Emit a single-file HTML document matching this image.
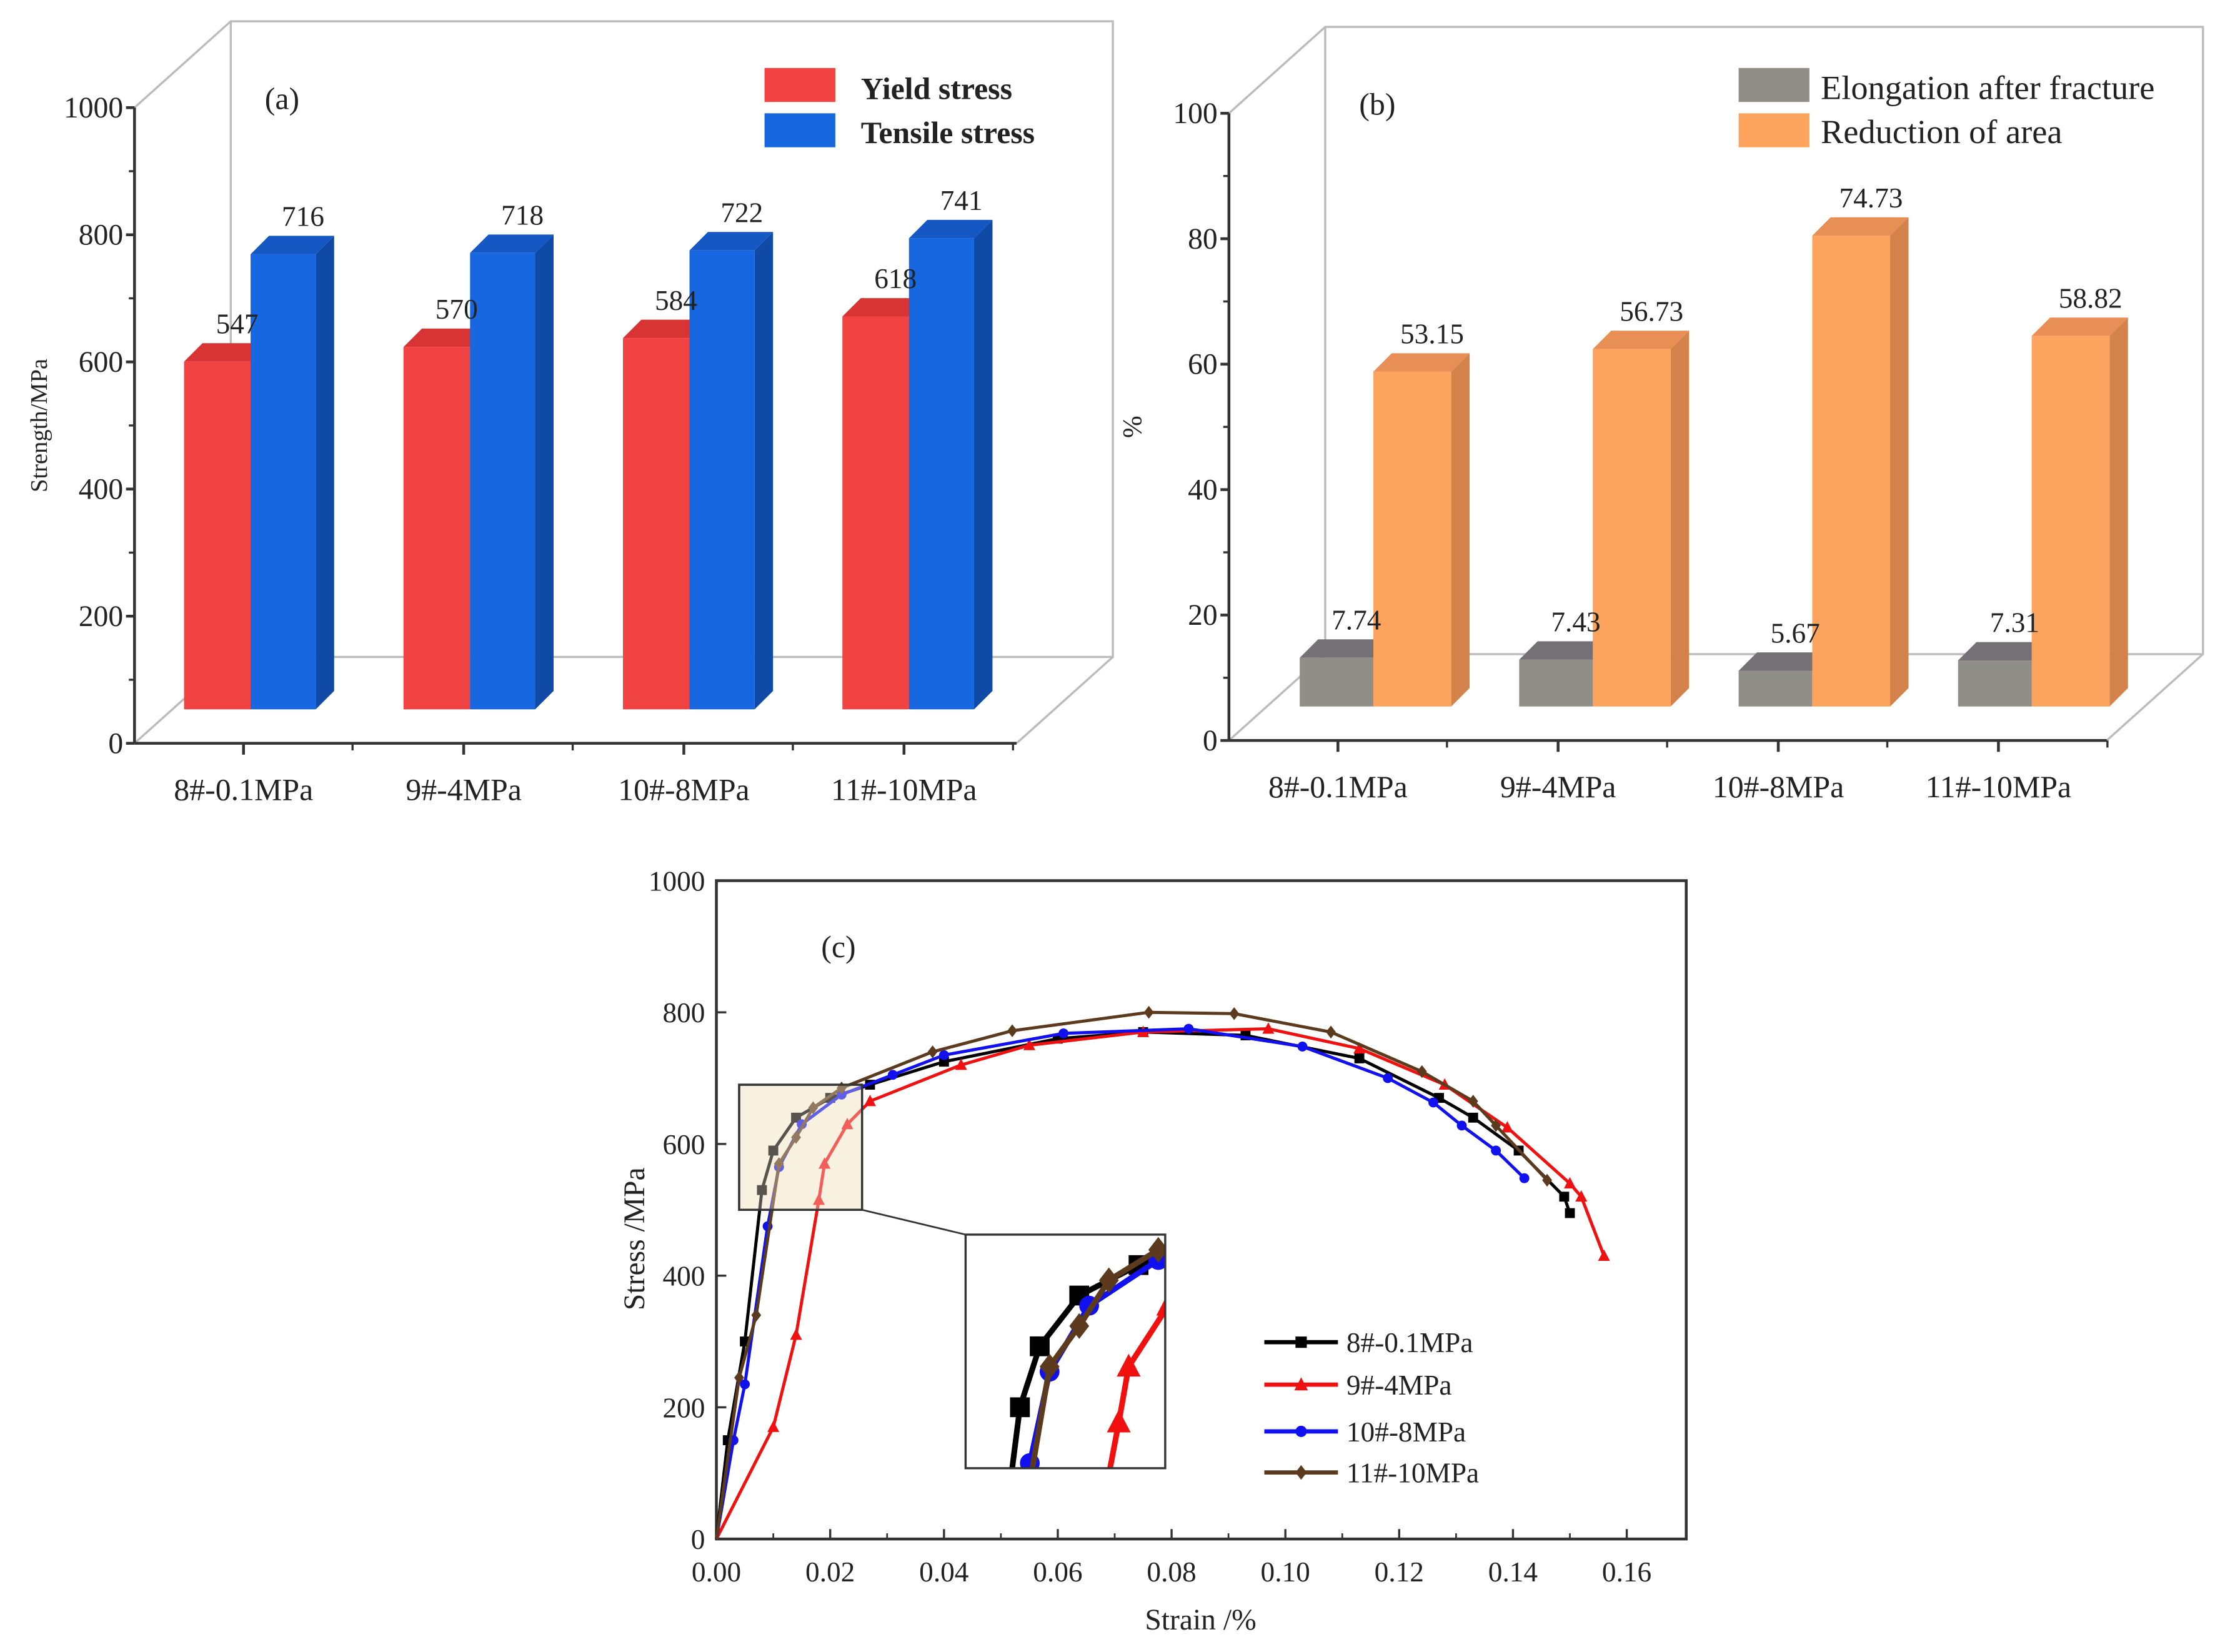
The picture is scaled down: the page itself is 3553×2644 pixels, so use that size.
<!DOCTYPE html>
<html><head><meta charset="utf-8"><style>
html,body{margin:0;padding:0;background:#fff;overflow:hidden;width:3553px;height:2644px;}
svg{display:block;font-family:"Liberation Serif",serif;}
</style></head><body>
<svg id="fig" width="3553" height="2644" viewBox="0 0 1568 1166.8" xmlns="http://www.w3.org/2000/svg">
<g id="pa"></g>
<g id="pb"></g>
<g id="pc"></g>
</svg>
<script>
const NS="http://www.w3.org/2000/svg";
const categories=["8#-0.1MPa","9#-4MPa","10#-8MPa","11#-10MPa"];
const yieldStress=[547,570,584,618];
const tensileStress=[716,718,722,741];
const elongation=[7.74,7.43,5.67,7.31];
const reduction=[53.15,56.73,74.73,58.82];
const ticksA=[0,200,400,600,800,1000];
const ticksB=[0,20,40,60,80,100];
const strain8=[0,0.002,0.005,0.008,0.010,0.014,0.020,0.027,0.040,0.060,0.075,0.093,0.113,0.127,0.133,0.141,0.149,0.150];
const stress8=[0,150,300,530,590,640,670,690,725,760,770,765,730,670,640,590,520,495];
const strain9=[0,0.010,0.014,0.018,0.019,0.023,0.027,0.043,0.055,0.075,0.097,0.113,0.128,0.139,0.150,0.152,0.156];
const stress9=[0,170,310,515,570,630,665,720,750,770,775,745,690,625,540,520,430];
const strain10=[0,0.003,0.005,0.009,0.011,0.015,0.022,0.031,0.040,0.061,0.083,0.103,0.118,0.126,0.131,0.137,0.142];
const stress10=[0,150,235,475,565,630,675,705,735,768,775,748,700,663,628,590,548];
const strain11=[0,0.004,0.007,0.011,0.014,0.017,0.022,0.038,0.052,0.076,0.091,0.108,0.124,0.133,0.137,0.146];
const stress11=[0,245,340,570,610,655,685,740,772,800,798,770,710,665,628,545];
const ticksCx=[0,0.02,0.04,0.06,0.08,0.10,0.12,0.14,0.16];
const ticksCy=[0,200,400,600,800,1000];

function el(parent,tag,attrs,text){const e=document.createElementNS(NS,tag);for(const k in attrs)e.setAttribute(k,attrs[k]);if(text!==undefined)e.textContent=text;parent.appendChild(e);return e;}

function bar3d(g,x,w,yBase,yTop,front,side,top,name){
  const d=13;
  const s=el(g,'polygon',{points:`${x+w},${yBase} ${x+w+d},${yBase-d} ${x+w+d},${yTop-d} ${x+w},${yTop}`,fill:side});
  
  
  const t=el(g,'polygon',{points:`${x},${yTop} ${x+d},${yTop-d} ${x+w+d},${yTop-d} ${x+w},${yTop}`,fill:top});
  
  
  const f=el(g,'rect',{x:x,y:yTop,width:w,height:yBase-yTop,fill:front});
  
  
}

function panel(g,opt){
  const ax=opt.ax, y0=opt.y0, y1=opt.y1, xr=opt.xr, dx=68, dy=-61;
  const st={stroke:'#bbb','stroke-width':1.5,fill:'none'};
  el(g,'polyline',Object.assign({points:`${ax},${y1} ${ax+dx},${y1+dy} ${xr+dx},${y1+dy} ${xr+dx},${y0+dy} ${ax+dx},${y0+dy} ${ax+dx},${y1+dy}`},st));
  el(g,'line',Object.assign({x1:ax,y1:y0,x2:ax+dx,y2:y0+dy},st));
  el(g,'line',Object.assign({x1:xr,y1:y0,x2:xr+dx,y2:y0+dy},st));
  el(g,'line',{x1:ax,y1:y0,x2:xr,y2:y0,stroke:'#333','stroke-width':2});
  el(g,'line',{x1:ax,y1:y0,x2:ax,y2:y1,stroke:'#333','stroke-width':2});
  const vmax=opt.ticks[opt.ticks.length-1];
  const yAxis=v=>y0-(v/vmax)*(y0-y1);
  opt.ticks.forEach((t,i)=>{
    const y=yAxis(t);
    el(g,'line',{x1:ax-6,y1:y,x2:ax,y2:y,stroke:'#333','stroke-width':2});
    if(i<opt.ticks.length-1){const ym=yAxis(t+vmax/10);el(g,'line',{x1:ax-4,y1:ym,x2:ax,y2:ym,stroke:'#333','stroke-width':1.5});}
    const tl=el(g,'text',{x:ax-8,y:y+7,'text-anchor':'end','font-size':21,fill:'#222'},String(t));
    
    
  });
  const yt=el(g,'text',{transform:`translate(${ax-62},${(y0+y1)/2}) rotate(-90)`,'text-anchor':'middle','font-size':opt.ytSize,fill:'#222'},opt.ytitle);
  
  
  const lab=el(g,'text',{x:ax+92,y:y1+1,'font-size':22,fill:'#222'},opt.label);
  
  
  const barBase=y0-24;
  const bScale=v=>barBase-v*opt.pxPer;
  categories.forEach((c,i)=>{
    const gx=opt.gx0+i*155;
    bar3d(g,gx,opt.w1,barBase,bScale(opt.s1[i]),opt.c1[0],opt.c1[1],opt.c1[2],opt.n1+'-'+i);
    bar3d(g,gx+opt.w1,opt.w2,barBase,bScale(opt.s2[i]),opt.c2[0],opt.c2[1],opt.c2[2],opt.n2+'-'+i);
    const v1=el(g,'text',{x:gx+opt.w1/2+14,y:bScale(opt.s1[i])-20,'text-anchor':'middle','font-size':20,fill:'#222'},opt.f1(opt.s1[i]));
    
    
    const v2=el(g,'text',{x:gx+opt.w1+opt.w2/2+14,y:bScale(opt.s2[i])-20,'text-anchor':'middle','font-size':20,fill:'#222'},opt.f2(opt.s2[i]));
    
    
    const tx=ax+77+i*155.5;
    el(g,'line',{x1:tx,y1:y0,x2:tx,y2:y0+8,stroke:'#333','stroke-width':2});
    el(g,'line',{x1:tx+77,y1:y0,x2:tx+77,y2:y0+5,stroke:'#333','stroke-width':1.5});
    const xl=el(g,'text',{x:tx,y:y0+40,'text-anchor':'middle','font-size':22,fill:'#222'},c);
    
    
  });
  opt.legend.forEach((L,i)=>{
    const r=el(g,'rect',{x:opt.lx,y:48+i*32,width:50,height:24,fill:L[1]});
    
    
    const t=el(g,'text',{x:opt.lx+opt.ltx,y:70+i*31,'font-size':opt.lfs,'font-weight':opt.lfw,fill:'#222'},L[0]);
    
    
  });
}

panel(document.getElementById('pa'),{ax:95,y0:525,y1:76,xr:718,ticks:ticksA,ytitle:'Strength/MPa',ytSize:17,label:'(a)',
  gx0:130,w1:47,w2:46,pxPer:0.449,s1:yieldStress,s2:tensileStress,
  c1:['#f24343','#b82c2c','#d83434'],c2:['#1768e0','#0f4aa6','#1558c4'],n1:'bar-yield',n2:'bar-tensile',
  f1:v=>String(v),f2:v=>String(v),legend:[['Yield stress','#f24343'],['Tensile stress','#1768e0']],lx:540,ltx:68,lfs:22,lfw:'bold'});
panel(document.getElementById('pb'),{ax:868,y0:523,y1:80,xr:1488,ticks:ticksB,ytitle:'%',ytSize:19,label:'(b)',
  gx0:918,w1:52,w2:55,pxPer:4.45,s1:elongation,s2:reduction,
  c1:['#8f8f87','#6e6a6c','#757075'],c2:['#fca45e','#d3824a','#e88f55'],n1:'bar-elongation',n2:'bar-reduction',
  f1:v=>v.toFixed(2),f2:v=>v.toFixed(2),legend:[['Elongation after fracture','#8f8f87'],['Reduction of area','#fca45e']],lx:1228,ltx:58,lfs:24,lfw:'normal'});

// panel c
const gc=document.getElementById('pc');
const PX0=506,PX1=1191,PY0=1087,PY1=622;
const xs=v=>PX0+v/0.16*(1149-PX0);
const ys=v=>PY0-v/1000*(PY0-PY1);
el(gc,'rect',{x:PX0,y:PY1,width:PX1-PX0,height:PY0-PY1,fill:'none',stroke:'#333','stroke-width':2});
ticksCx.forEach(t=>{const x=xs(t);el(gc,'line',{x1:x,y1:PY0,x2:x,y2:PY0-7,stroke:'#333','stroke-width':1.5});
  if(t<0.16){el(gc,'line',{x1:xs(t+0.01),y1:PY0,x2:xs(t+0.01),y2:PY0-4,stroke:'#333','stroke-width':1.2});}
  const l=el(gc,'text',{x:x,y:PY0+30,'text-anchor':'middle','font-size':20,fill:'#222'},t.toFixed(2));
  
  });
ticksCy.forEach(t=>{const y=ys(t);el(gc,'line',{x1:PX0,y1:y,x2:PX0+7,y2:y,stroke:'#333','stroke-width':1.5});
  const l=el(gc,'text',{x:PX0-8,y:y+7,'text-anchor':'end','font-size':20,fill:'#222'},String(t));
  
  });
let t1=el(gc,'text',{x:848,y:1151,'text-anchor':'middle','font-size':21,fill:'#222'},'Strain /%');

t1=el(gc,'text',{transform:`translate(455,875) rotate(-90)`,'text-anchor':'middle','font-size':21,fill:'#222'},'Stress /MPa');

t1=el(gc,'text',{x:580,y:676,'font-size':22,fill:'#222'},'(c)');

const zx0=0.004,zx1=0.0256,zy0=500,zy1=690;
const zr=el(gc,'rect',{x:xs(zx0),y:ys(zy1),width:xs(zx1)-xs(zx0),height:ys(zy0)-ys(zy1),fill:'#f9f2e0',stroke:'#333','stroke-width':1.5});

el(gc,'line',{x1:xs(zx1),y1:ys(zy0),x2:682,y2:872,stroke:'#333','stroke-width':1.2});

const series=[[strain8,stress8,'#000','sq','series-8mpa-0.1'],[strain9,stress9,'#f01010','tri','series-9-4mpa'],[strain10,stress10,'#1010f0','dot','series-10-8mpa'],[strain11,stress11,'#5b3a1d','dia','series-11-10mpa']];
function marker(g,x,y,type,c,s){
  let m;
  if(type==='sq')m=el(g,'rect',{x:x-s,y:y-s,width:2*s,height:2*s,fill:c});
  else if(type==='tri')m=el(g,'polygon',{points:`${x},${y-s*1.3} ${x-s*1.2},${y+s} ${x+s*1.2},${y+s}`,fill:c});
  else if(type==='dot')m=el(g,'circle',{cx:x,cy:y,r:s,fill:c});
  else m=el(g,'polygon',{points:`${x},${y-s*1.3} ${x+s},${y} ${x},${y+s*1.3} ${x-s},${y}`,fill:c});
  
  
}
function drawSeries(g,fx,fy,w,ms){
  series.forEach(S=>{
    const pts=S[0].map((v,i)=>fx(v)+','+fy(S[1][i])).join(' ');
    const p=el(g,'polyline',{points:pts,fill:'none',stroke:S[2],'stroke-width':w,'stroke-linejoin':'round'});
    
    
    S[0].forEach((v,i)=>{if(i>0)marker(g,fx(v),fy(S[1][i]),S[3],S[2],ms);});
  });
}
drawSeries(gc,xs,ys,2.2,3.5);
el(gc,'rect',{x:xs(zx0),y:ys(zy1),width:xs(zx1)-xs(zx0),height:ys(zy0)-ys(zy1),fill:'#f9f2e0','fill-opacity':0.35,stroke:'#333','stroke-width':1.5});
const IX0=682,IX1=823,IY0=1037,IY1=872;
el(gc,'defs',{}).innerHTML=`<clipPath id="ic"><rect x="${IX0}" y="${IY1}" width="${IX1-IX0}" height="${IY0-IY1}"/></clipPath>`;
const ins=el(gc,'g',{'clip-path':'url(#ic)'});


el(ins,'rect',{x:IX0,y:IY1,width:IX1-IX0,height:IY0-IY1,fill:'#fff'});
const ix=v=>IX0+(v-0.0025)/(0.0227-0.0025)*(IX1-IX0);
const iy=v=>IY0-(v-470)/(700-470)*(IY0-IY1);
drawSeries(ins,ix,iy,4,7);
el(gc,'rect',{x:IX0,y:IY1,width:IX1-IX0,height:IY0-IY1,fill:'none',stroke:'#333','stroke-width':1.5});
const legY=[948,978,1011,1040];
series.forEach((S,i)=>{
  el(gc,'line',{x1:893,y1:legY[i],x2:945,y2:legY[i],stroke:S[2],'stroke-width':3});
  marker(gc,919,legY[i],S[3],S[2],4);
  const t=el(gc,'text',{x:951,y:legY[i]+7,'font-size':20,fill:'#222'},categories[i]);
  
  
});
</script>
</body></html>
